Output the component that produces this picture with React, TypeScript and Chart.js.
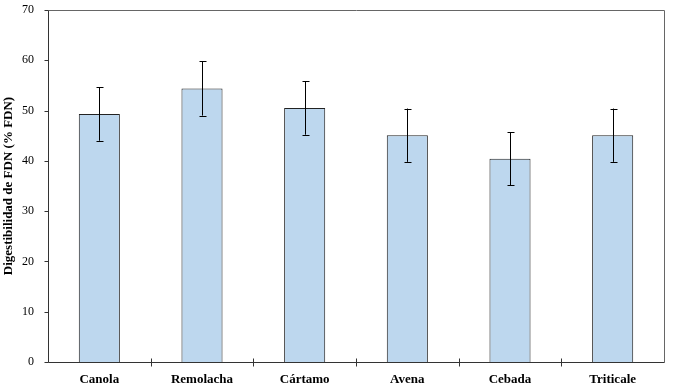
import React, { useEffect, useRef } from "react";
import { Chart, registerables } from "chart.js";

Chart.register(...registerables);

const categories = ["Canola", "Remolacha", "Cártamo", "Avena", "Cebada", "Triticale"];
const values = [49.3, 54.4, 50.5, 45.1, 40.4, 45.1];
const errors = [5.3, 5.4, 5.3, 5.3, 5.3, 5.3];
const yTicks = [0, 10, 20, 30, 40, 50, 60, 70];
const yTitle = "Digestibilidad de FDN (% FDN)";

const FONT = "'Times New Roman', 'Liberation Serif', serif";

const framePlugin = {
  id: "frame",
  afterDatasetsDraw(chart: any) {
    const { ctx, chartArea: a, scales } = chart;
    const x = scales.x;
    const y = scales.y;
    ctx.save();
    ctx.strokeStyle = "#000";
    ctx.lineWidth = 1;
    values.forEach((v, i) => {
      const px = Math.round(x.getPixelForValue(i)) + 0.5;
      const top = y.getPixelForValue(v + errors[i]);
      const bot = y.getPixelForValue(v - errors[i]);
      ctx.beginPath();
      ctx.moveTo(px, top);
      ctx.lineTo(px, bot);
      ctx.moveTo(px - 3, Math.round(top) + 0.5);
      ctx.lineTo(px + 4, Math.round(top) + 0.5);
      ctx.moveTo(px - 3, Math.round(bot) + 0.5);
      ctx.lineTo(px + 4, Math.round(bot) + 0.5);
      ctx.stroke();
    });
    const l = Math.round(a.left) + 0.5;
    const r = Math.round(a.right) + 0.5;
    const t = Math.round(a.top) + 0.5;
    const b = Math.round(a.bottom) + 0.5;
    ctx.strokeStyle = "#666";
    ctx.beginPath();
    ctx.moveTo(l, t);
    ctx.lineTo(r, t);
    ctx.lineTo(r, b);
    ctx.stroke();
    ctx.strokeStyle = "#333";
    ctx.beginPath();
    ctx.moveTo(l, t);
    ctx.lineTo(l, b);
    ctx.lineTo(r, b);
    ctx.stroke();
    yTicks.forEach((t2) => {
      const py = Math.round(y.getPixelForValue(t2)) + 0.5;
      ctx.beginPath();
      ctx.moveTo(l - 4, py);
      ctx.lineTo(l, py);
      ctx.stroke();
    });
    const step = (a.right - a.left) / categories.length;
    for (let i = 1; i < categories.length; i++) {
      const px = Math.round(a.left + step * i) + 0.5;
      ctx.beginPath();
      ctx.moveTo(px, b - 4);
      ctx.lineTo(px, b + 4);
      ctx.stroke();
    }
    ctx.restore();
  },
};

export default function App() {
  const ref = useRef<HTMLCanvasElement>(null);
  useEffect(() => {
    const chart = new Chart(ref.current!, {
      type: "bar",
      data: {
        labels: categories,
        datasets: [
          {
            data: values,
            backgroundColor: "#bdd7ee",
            borderColor: "#222",
            borderWidth: 1,
            categoryPercentage: 1,
            barPercentage: 0.4,
          },
        ],
      },
      options: {
        animation: false,
        responsive: false,
        maintainAspectRatio: false,
        layout: { padding: { top: 0, right: 10, left: 0, bottom: 0 } },
        plugins: { legend: { display: false }, tooltip: { enabled: false } },
        scales: {
          x: {
            grid: { display: false },
            border: { display: false },
            ticks: {
              color: "#000",
              font: { family: FONT, size: 13, weight: "bold" },
              padding: 2,
              maxRotation: 0,
            },
            afterFit: (s: any) => {
              s.height = 28;
            },
          },
          y: {
            min: 0,
            max: 70,
            grid: { display: false },
            border: { display: false },
            ticks: {
              stepSize: 10,
              color: "#000",
              font: { family: FONT, size: 12 },
              padding: 6,
            },
            title: {
              display: true,
              text: yTitle,
              color: "#000",
              font: { family: FONT, size: 13, weight: "bold" },
              padding: { top: 1, bottom: 6 },
            },
            afterFit: (s: any) => {
              s.width = 48;
              s.paddingTop = 10;
              s.paddingBottom = 0;
            },
          },
        },
      },
      plugins: [framePlugin],
    });
    return () => chart.destroy();
  }, []);
  return (
    <div style={{ position: "fixed", left: 0, top: 0, width: 674, height: 390, background: "#fff" }}>
      <canvas ref={ref} width={674} height={390} style={{ width: 674, height: 390 }} />
    </div>
  );
}
